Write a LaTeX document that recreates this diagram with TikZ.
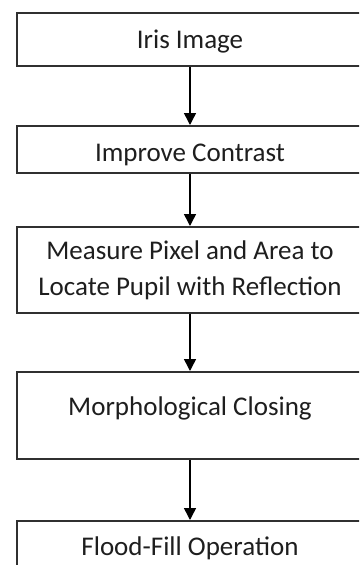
\documentclass[tikz,border=0pt]{standalone}
\usepackage{fontspec}
\setmainfont{Carlito}
\usetikzlibrary{arrows.meta, positioning}
\definecolor{cline}{HTML}{303030}
\definecolor{ctext}{HTML}{1E1E1E}
\tikzset{
  every picture/.style={line width=1.8pt},
  box/.style={draw=cline, fill=white, anchor=north, minimum width=346pt, inner sep=0pt,
              align=center, text=ctext, font=\fontsize{27pt}{36pt}\selectfont},
  arrow/.style={-{Triangle[length=12pt, width=12pt]}, draw=black, line width=1.5pt},
}
\begin{document}
\begin{tikzpicture}[x=1pt, y=-1pt]
  \useasboundingbox (0,0) rectangle (359,565);
  \clip (0,0) rectangle (359,565);
  \node[box, text height=36pt, text depth=17pt] (img) at (190,12) {Iris Image};
  \node[box, text height=36pt, text depth=11pt] (contrast) at (190,125) {Improve Contrast};
  \node[box, minimum height=86pt] (pupil) at (190,226) {Measure Pixel and Area to\\Locate Pupil with Reflection};
  \node[box, text height=44pt, text depth=43pt] (closing) at (190,371) {Morphological Closing};
  \node[box, text height=35pt, text depth=25pt] (flood) at (190,520) {Flood-Fill Operation};
  \draw[arrow] (img) -- (contrast);
  \draw[arrow] (contrast) -- (pupil);
  \draw[arrow] (pupil) -- (closing);
  \draw[arrow] (closing) -- (flood);
\end{tikzpicture}
\end{document}
